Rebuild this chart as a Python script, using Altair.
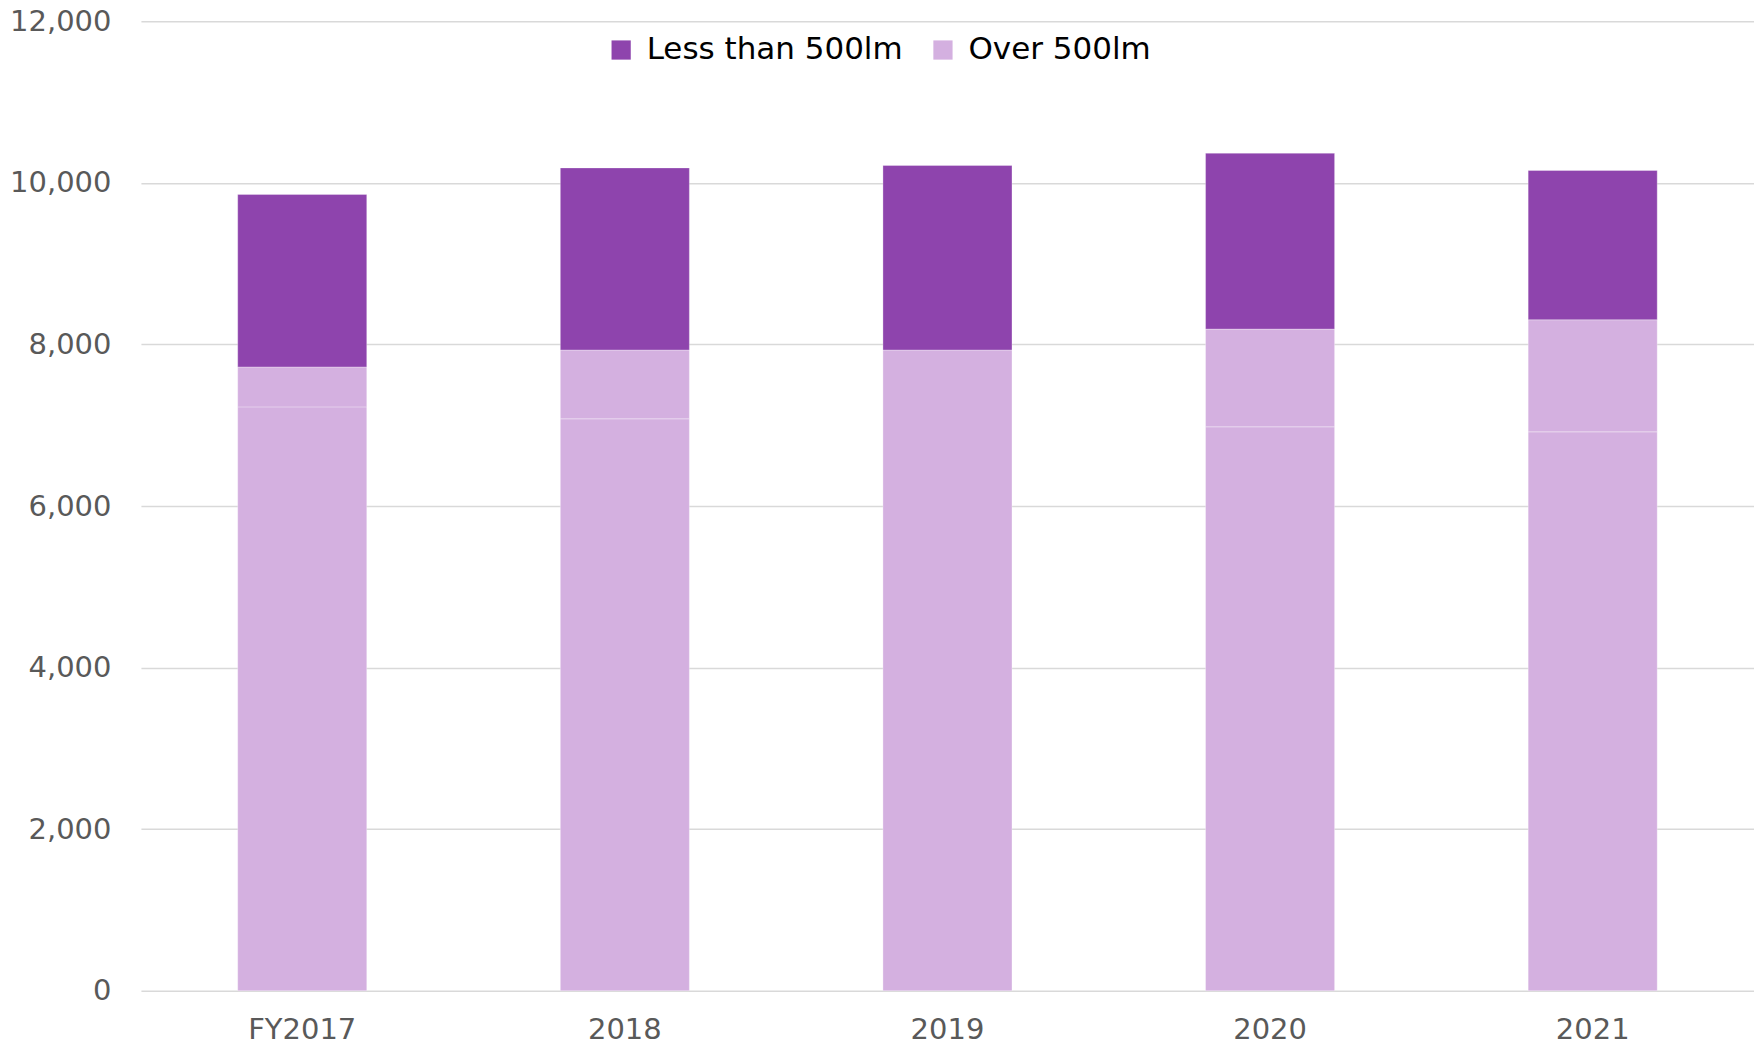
import altair as alt
import pandas as pd

years = ["FY2017", "2018", "2019", "2020", "2021"]
base_vals = [7227, 7079, 7931, 6980, 6918]
over_vals = [494, 852, 0, 1210, 1387]
less_vals = [2136, 2254, 2284, 2177, 1848]

series_names = ["Over 500lm (base)", "Over 500lm", "Less than 500lm"]
series_values = [base_vals, over_vals, less_vals]

rows = []
for si, (name, vals) in enumerate(zip(series_names, series_values)):
    for y, v in zip(years, vals):
        if v > 0:
            rows.append({"year": y, "series": name, "value": v, "order": si})
df = pd.DataFrame(rows)

FONT = "DejaVu Sans"

chart = alt.Chart(df).mark_bar(
    stroke="white", strokeOpacity=0.3, strokeWidth=1
).encode(
    x=alt.X("year:N", sort=years, title=None,
            scale=alt.Scale(paddingInner=0.6, paddingOuter=0.3),
            axis=alt.Axis(labelAngle=0, ticks=False, domain=False, labelFontSize=29,
                          labelColor="#595959", labelFont=FONT, labelPadding=25)),
    y=alt.Y("value:Q", stack="zero", title=None,
            scale=alt.Scale(domain=[0, 12000], nice=False),
            axis=alt.Axis(values=[0, 2000, 4000, 6000, 8000, 10000, 12000], format=",.0f",
                          ticks=False, domain=False, labelFontSize=29, labelColor="#595959",
                          labelFont=FONT, labelPadding=30, gridColor="#d9d9d9", gridWidth=1.5)),
    color=alt.Color("series:N",
                    scale=alt.Scale(domain=["Less than 500lm", "Over 500lm", "Over 500lm (base)"],
                                    range=["#8e44ad", "#d4b0e0", "#d4b0e0"]),
                    legend=alt.Legend(values=["Less than 500lm", "Over 500lm"], title=None,
                                      orient="none", legendX=465, legendY=13,
                                      direction="horizontal", columns=2, columnPadding=24,
                                      labelFontSize=31, labelFont=FONT, labelColor="#000000",
                                      labelOffset=10, symbolType="square", symbolSize=370,
                                      symbolStrokeWidth=0, labelLimit=500)),
    order=alt.Order("order:Q", sort="ascending"),
).properties(
    width=1614, height=970,
    autosize=alt.AutoSizeParams(type="none"),
    padding={"left": 133, "top": 13, "right": 0, "bottom": 56},
).configure_view(stroke=None)

chart.save("out.html", embed_options={"renderer": "svg", "actions": False})
